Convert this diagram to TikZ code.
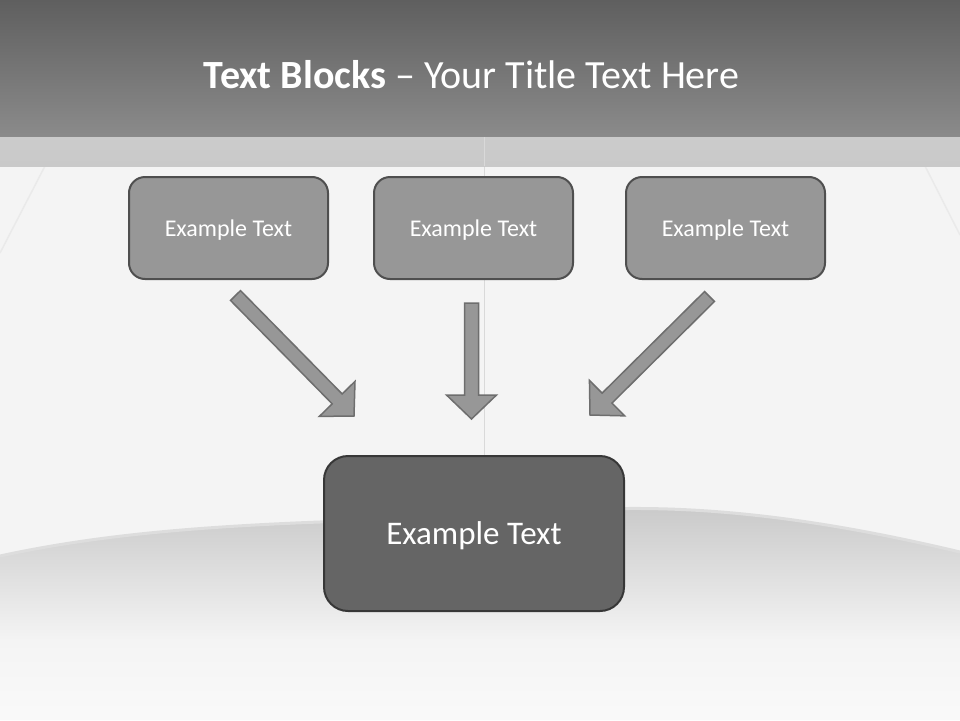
\documentclass[tikz,border=0pt]{standalone}
\usepackage{fontspec}
\setmainfont{Carlito}
\usetikzlibrary{calc}

\definecolor{bandtop}{HTML}{5F5F5F}
\definecolor{bandbottom}{HTML}{8B8B8B}
\definecolor{stripgray}{HTML}{C9C9C9}
\definecolor{pagegray}{HTML}{F4F4F4}
\definecolor{foldgray}{HTML}{C9C9C9}
\definecolor{foldlight}{HTML}{DDDDDD}
\definecolor{spinegray}{HTML}{D9D9D9}
\definecolor{boxfill}{HTML}{979797}
\definecolor{boxline}{HTML}{4F4F4F}
\definecolor{bigfill}{HTML}{656565}
\definecolor{bigline}{HTML}{373737}
\definecolor{arrowfill}{HTML}{979797}
\definecolor{arrowline}{HTML}{6E6E6E}

\tikzset{
  smallbox/.style={draw=boxline, fill=boxfill, line width=2pt, rounded corners=16pt,
    minimum width=199pt, minimum height=102pt, inner sep=0pt, text=white, text depth=0pt,
    font=\fontsize{24}{26}\selectfont},
  bigbox/.style={draw=bigline, fill=bigfill, line width=2pt, rounded corners=24pt,
    minimum width=300pt, minimum height=155pt, inner sep=0pt, text=white, text depth=0pt,
    font=\fontsize{33}{36}\selectfont},
  titletext/.style={text=white, inner sep=0pt, font=\fontsize{40}{44}\selectfont},
  arrowpath/.style={fill=arrowfill, draw=arrowline, line width=1.5pt},
  spine/.style={draw=spinegray, line width=1pt},
  pageedge/.style={draw=pagegray!96!black, line width=1.5pt}
}

% block arrow from one named coordinate to another
\newcommand{\drawblockarrow}[2]{%
  \filldraw[arrowpath] let \p1=($(#2)-(#1)$), \n1={atan2(\y1,\x1)}, \n2={veclen(\x1,\y1)} in
    [shift={(#1)}, rotate=\n1]
    (0pt,-7pt) -- ({\n2-24pt},-7pt) -- ({\n2-24pt},-25pt) -- ({\n2},0pt)
    -- ({\n2-24pt},25pt) -- ({\n2-24pt},7pt) -- (0pt,7pt) -- cycle;
}

\begin{document}
\begin{tikzpicture}[x=1pt,y=-1pt]
\useasboundingbox (0,0) rectangle (960,720);

% page background
\fill[pagegray] (0,0) rectangle (960,720);
% folded pages at the bottom
\begin{scope}
\clip (0,556) .. controls (120,530) and (250,522) .. (470,518)
  .. controls (580,510) and (700,490) .. (960,552) -- (960,720) -- (0,720) -- cycle;
\shade[top color=foldgray, middle color=pagegray!94!black, bottom color=pagegray] (0,505) rectangle (960,640);
\shade[top color=pagegray, bottom color=pagegray!50!white] (0,640) rectangle (960,720);
\end{scope}
\draw[foldlight, line width=3pt]
  (0,556) .. controls (120,530) and (250,522) .. (470,518)
  .. controls (580,510) and (700,490) .. (960,552);
% spine and page edges
\draw[spine] (484,137) -- (484,455);
\draw[pageedge] (45,166) -- (0,253);
\draw[pageedge] (925,166) -- (960,235);

% title bands
\shade[top color=bandtop, bottom color=bandbottom] (0,0) rectangle (960,137);
\shade[top color=stripgray!95!white, bottom color=stripgray] (0,137) rectangle (960,166);
\draw[spine] (484,137) -- (484,166);

\node[titletext, anchor=base] (title) at (471.5,88) {\textbf{Text Blocks} – Your Title Text Here};

% boxes
\node[smallbox] (ex1) at (228.5,228) {Example Text};
\node[smallbox] (ex2) at (473.5,228) {Example Text};
\node[smallbox] (ex3) at (725.5,228) {Example Text};
\node[bigbox] (result) at (474,533.5) {Example Text};

% arrows
\coordinate (a1s) at (235.5,295.5);
\coordinate (a1e) at (354,416);
\coordinate (a2s) at (471.5,303);
\coordinate (a2e) at (471.5,419);
\coordinate (a3s) at (709.5,296.5);
\coordinate (a3e) at (590,415);
\drawblockarrow{a1s}{a1e}
\drawblockarrow{a2s}{a2e}
\drawblockarrow{a3s}{a3e}
\end{tikzpicture}
\end{document}
